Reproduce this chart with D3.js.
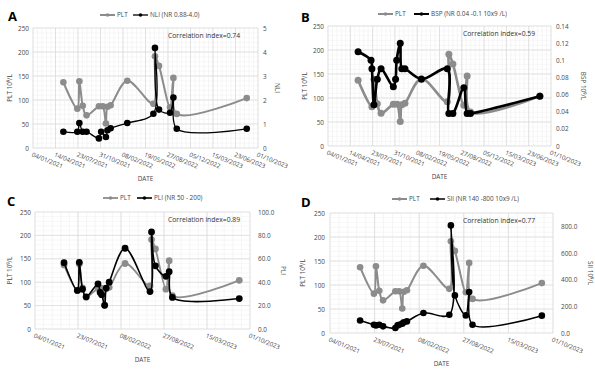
<!DOCTYPE html>
<html>
<head>
<meta charset="utf-8">
<script src="https://cdn.jsdelivr.net/npm/d3@7"></script>
<style>
body { margin: 0; background: #fff; }
svg { display: block; font-family: "Open Sans", sans-serif; }
</style>
</head>
<body>
<div id="chart"></div>
<script>
// ---- data ----
var pltDates = ["2021-05-19","2021-07-20","2021-07-29","2021-08-13","2021-08-30","2021-10-24","2021-11-10","2021-11-24","2021-12-01","2021-12-15","2022-02-27","2022-06-23","2022-06-30","2022-07-18","2022-09-05","2022-09-20","2022-10-05","2023-08-12"];
var pltValues = [137, 82, 139, 88, 68, 87, 87, 51, 86, 89, 140, 92, 191, 171, 85, 146, 71, 104];

var nliDates = ["2021-05-19","2021-07-20","2021-07-29","2021-08-13","2021-08-30","2021-10-24","2021-11-03","2021-11-24","2021-12-01","2021-12-15","2022-02-27","2022-06-23","2022-06-30","2022-07-18","2022-09-05","2022-09-20","2022-10-05","2023-08-12"];
var nliValues = [0.68, 0.68, 1.04, 0.68, 0.68, 0.40, 0.68, 0.46, 0.74, 0.82, 1.04, 1.43, 4.17, 1.60, 1.47, 2.10, 0.80, 0.80];

var bspDates = ["2021-05-19","2021-07-16","2021-07-20","2021-07-29","2021-08-13","2021-08-30","2021-10-24","2021-11-03","2021-11-08","2021-11-24","2021-12-01","2021-12-15","2022-02-27","2022-06-23","2022-06-30","2022-07-18","2022-09-05","2022-09-20","2022-10-05","2023-08-12"];
var bspValues = [0.11, 0.10, 0.09, 0.048, 0.078, 0.09, 0.069, 0.078, 0.10, 0.12, 0.09, 0.09, 0.078, 0.09, 0.038, 0.038, 0.068, 0.038, 0.038, 0.058];

var pliDates = ["2021-05-19","2021-07-20","2021-07-29","2021-08-13","2021-08-30","2021-10-24","2021-11-03","2021-11-10","2021-11-24","2021-12-01","2021-12-15","2022-02-27","2022-06-23","2022-06-30","2022-07-18","2022-09-05","2022-09-20","2022-10-05","2023-08-12"];
var pliValues = [56.7, 33, 57, 34, 27.5, 38.5, 31.3, 29.3, 20.2, 35, 40, 69, 32, 83, 54, 45, 49, 27, 26];

var siiDates = ["2021-05-19","2021-07-20","2021-07-29","2021-08-13","2021-08-30","2021-10-24","2021-11-03","2021-11-10","2021-11-24","2021-12-01","2021-12-15","2022-02-27","2022-06-23","2022-06-30","2022-07-18","2022-09-05","2022-09-20","2022-10-05","2023-08-12"];
var siiValues = [94, 62, 57, 62, 50, 37, 57, 62, 70, 80, 87, 150, 137, 807, 282, 132, 307, 62, 130];

var xTicksAB = ["04/01/2021","14/04/2021","23/07/2021","31/10/2021","08/02/2022","19/05/2022","27/08/2022","05/12/2022","15/03/2023","23/06/2023","01/10/2023"];
var xTicksCD = ["04/01/2021","23/07/2021","08/02/2022","27/08/2022","15/03/2023","01/10/2023"];
var leftTicks = [0, 50, 100, 150, 200, 250];
var nliTicks = [0, 1, 2, 3, 4, 5];
var bspTicks = [0, 0.02, 0.04, 0.06, 0.08, 0.1, 0.12, 0.14];
var pliTicks = [0, 20, 40, 60, 80, 100];
var siiTicks = [0, 200, 400, 600, 800];

var parseDate = d3.utcParse("%Y-%m-%d"),
    parseTick = d3.utcParse("%d/%m/%Y");

function zip(dates, values) {
    return dates.map(function(d, i){ return {date: parseDate(d), v: values[i]}; });
}

var svg = d3.select("#chart")
    .append("svg")
    .attr("width", 595)
    .attr("height", 373);

var grey = "#8c8c8c", txt = "#474747";

function drawPanel(p) {
    var tickDates = p.ticks.map(parseTick);
    var start = tickDates[0];

    var x = d3.scaleUtc()
        .domain([start, tickDates[tickDates.length - 1]])
        .range([p.l, p.r]);
    var yL = d3.scaleLinear().domain([0, 250]).range([p.b, p.t]);
    var yR = d3.scaleLinear().domain([0, p.rMax]).range([p.b, p.t]);

    var g = svg.append("g");

    // minor grid
    var minorX = d3.range(0, 1001, p.minorDays).map(function(d){ return d3.utcDay.offset(start, d); });
    g.append("g").selectAll("line").data(minorX).enter().append("line")
        .attr("x1", x).attr("x2", x).attr("y1", p.t).attr("y2", p.b)
        .attr("stroke", "#efefef").attr("stroke-width", 0.6);
    g.append("g").selectAll("line").data(d3.range(0, 251, 10)).enter().append("line")
        .attr("x1", p.l).attr("x2", p.r).attr("y1", yL).attr("y2", yL)
        .attr("stroke", "#f1f1f1").attr("stroke-width", 0.6);

    // major grid
    g.append("g").selectAll("line").data(tickDates).enter().append("line")
        .attr("x1", x).attr("x2", x).attr("y1", p.t).attr("y2", p.b)
        .attr("stroke", "#d9d9d9").attr("stroke-width", 0.7);
    g.append("g").selectAll("line").data(leftTicks).enter().append("line")
        .attr("x1", p.l).attr("x2", p.r).attr("y1", yL).attr("y2", yL)
        .attr("stroke", "#d9d9d9").attr("stroke-width", 0.7);

    // axes
    var ax = g.append("g")
        .attr("transform", "translate(0," + p.b + ")")
        .call(d3.axisBottom(x).tickValues(tickDates).tickFormat(d3.utcFormat("%d/%m/%Y")).tickSize(0))
        .attr("font-family", null).attr("font-size", null);
    ax.select(".domain").remove();
    ax.selectAll("text")
        .attr("x", 1).attr("y", 4).attr("dy", "0.71em")
        .attr("transform", "rotate(22)")
        .style("text-anchor", "start")
        .attr("fill", txt).style("font-size", "6.2px");

    var ay = g.append("g")
        .attr("transform", "translate(" + p.l + ",0)")
        .call(d3.axisLeft(yL).tickValues(leftTicks).tickSize(0).tickPadding(p.lPad))
        .attr("font-family", null).attr("font-size", null);
    ay.select(".domain").remove();
    ay.selectAll("text").attr("fill", txt).style("font-size", "6.4px");

    var ar = g.append("g")
        .attr("transform", "translate(" + p.r + ",0)")
        .call(d3.axisRight(yR).tickValues(p.rTicks).tickFormat(p.rFmt).tickSize(0).tickPadding(p.rPad))
        .attr("font-family", null).attr("font-size", null);
    ar.select(".domain").remove();
    ar.selectAll("text").attr("fill", txt).style("font-size", "6.4px");

    // axis titles
    var midY = (p.t + p.b) / 2;
    g.append("text")
        .attr("transform", "translate(" + p.lTitleX + "," + midY + ") rotate(-90)")
        .attr("text-anchor", "middle").attr("fill", txt).style("font-size", "6.4px")
        .text("PLT 10⁹/L");
    g.append("text")
        .attr("transform", "translate(" + p.rTitleX + "," + midY + ") rotate(90)")
        .attr("text-anchor", "middle").attr("fill", txt).style("font-size", "6.4px")
        .text(p.rTitle);
    g.append("text")
        .attr("x", (p.l + p.r) / 2).attr("y", p.dateY)
        .attr("text-anchor", "middle").attr("fill", txt).style("font-size", "6.4px")
        .text("DATE");

    // series
    var line = function(yScale) {
        return d3.line()
            .x(function(d){ return x(d.date); })
            .y(function(d){ return yScale(d.v); })
            .curve(d3.curveCatmullRom.alpha(0.5));
    };
    var plt = zip(pltDates, pltValues);
    g.append("path").datum(plt)
        .attr("d", line(yL)).attr("fill", "none")
        .attr("stroke", grey).attr("stroke-width", p.greyW);
    g.append("g").selectAll("circle").data(plt).enter().append("circle")
        .attr("cx", function(d){ return x(d.date); })
        .attr("cy", function(d){ return yL(d.v); })
        .attr("r", p.rad).attr("fill", grey);

    var sec = zip(p.dates, p.values);
    g.append("path").datum(sec)
        .attr("d", line(yR)).attr("fill", "none")
        .attr("stroke", "#000").attr("stroke-width", p.blackW);
    g.append("g").selectAll("circle").data(sec).enter().append("circle")
        .attr("cx", function(d){ return x(d.date); })
        .attr("cy", function(d){ return yR(d.v); })
        .attr("r", p.rad).attr("fill", "#000");

    // legend
    var lg = g.append("g").attr("transform", "translate(0," + p.legY + ")");
    [[p.legX[0], grey, "PLT", p.greyW], [p.legX[1], "#000", p.legend, p.blackW]].forEach(function(it){
        lg.append("line").attr("x1", it[0]).attr("x2", it[0] + 15).attr("y1", 0).attr("y2", 0)
            .attr("stroke", it[1]).attr("stroke-width", Math.min(it[3], 2));
        lg.append("circle").attr("cx", it[0] + 7.5).attr("cy", 0).attr("r", 1.8).attr("fill", it[1]);
        lg.append("text").attr("x", it[0] + 17).attr("y", 0).attr("dy", "0.35em")
            .attr("fill", txt).style("font-size", "6.4px").text(it[2]);
    });

    // correlation + panel letter
    g.append("text").attr("x", p.corrX).attr("y", p.t + 10)
        .attr("fill", "#333").style("font-size", "6.8px").text(p.corr);
    g.append("text").attr("x", p.letter[0]).attr("y", p.letter[1])
        .style("font-size", "13px").style("font-weight", "bold").attr("fill", "#000")
        .text(p.name);
}

drawPanel({
    name: "A", letter: [8, 21], l: 33, r: 258, t: 28, b: 148,
    ticks: xTicksAB, minorDays: 20,
    rMax: 5, rTicks: nliTicks, rFmt: d3.format("d"), rTitle: "NLI",
    lPad: 4, rPad: 5, lTitleX: 12, rTitleX: 275, dateY: 181,
    dates: nliDates, values: nliValues, legend: "NLI (NR 0.88-4.0)",
    legX: [100, 133], legY: 15, corr: "Correlation index=0.74", corrX: 168,
    greyW: 2, blackW: 1.3, rad: 3.3
});
drawPanel({
    name: "B", letter: [301, 22], l: 328, r: 551, t: 26, b: 146,
    ticks: xTicksAB, minorDays: 20,
    rMax: 0.14, rTicks: bspTicks, rFmt: function(d){ return String(+d.toFixed(2)); }, rTitle: "BSP 10⁹/L",
    lPad: 4, rPad: 5, lTitleX: 307, rTitleX: 581, dateY: 179,
    dates: bspDates, values: bspValues, legend: "BSP (NR 0.04 -0.1 10x9 /L)",
    legX: [378, 414], legY: 14, corr: "Correlation index=0.59", corrX: 463,
    greyW: 2.6, blackW: 2.6, rad: 3.5
});
drawPanel({
    name: "C", letter: [7, 206], l: 35, r: 250, t: 212, b: 329,
    ticks: xTicksCD, minorDays: 40,
    rMax: 100, rTicks: pliTicks, rFmt: d3.format(".1f"), rTitle: "PLI",
    lPad: 4, rPad: 8, lTitleX: 12, rTitleX: 281, dateY: 362,
    dates: pliDates, values: pliValues, legend: "PLI (NR 50 - 200)",
    legX: [103, 137], legY: 198, corr: "Correlation index=0.89", corrX: 168,
    greyW: 1.8, blackW: 1.6, rad: 3.4
});
drawPanel({
    name: "D", letter: [301, 207], l: 330, r: 553, t: 213, b: 333,
    ticks: xTicksCD, minorDays: 40,
    rMax: 900, rTicks: siiTicks, rFmt: d3.format(".1f"), rTitle: "SII 10⁹/L",
    lPad: 5, rPad: 8, lTitleX: 305, rTitleX: 588, dateY: 366,
    dates: siiDates, values: siiValues, legend: "SII (NR 140 -800 10x9 /L)",
    legX: [392, 430], legY: 199, corr: "Correlation index=0.77", corrX: 463,
    greyW: 2, blackW: 1.5, rad: 3.3
});
</script>
</body>
</html>
